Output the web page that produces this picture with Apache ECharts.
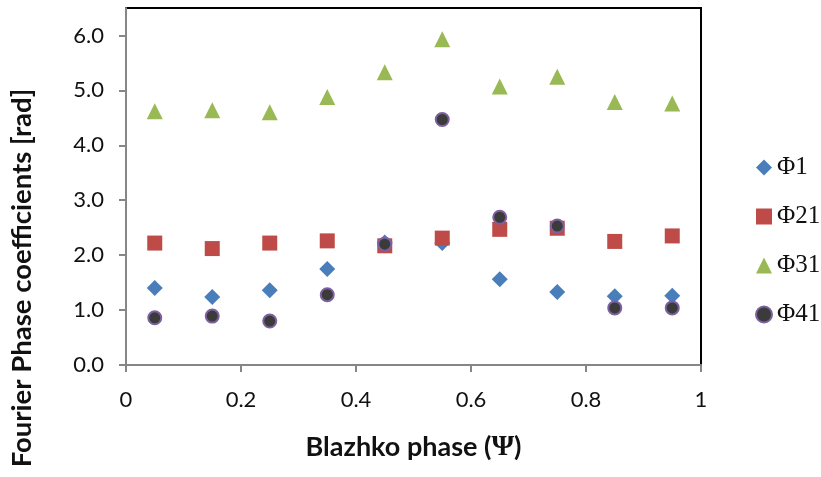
<!DOCTYPE html>
<html>
<head>
<meta charset="utf-8">
<script src="https://cdn.jsdelivr.net/npm/echarts@6/dist/echarts.min.js"></script>
<style>
  html, body { margin: 0; padding: 0; background: #fff; }
  #plot { width: 821px; height: 477px; }
</style>
</head>
<body>
<div id="plot"></div>
<script>
const phases = [0.05, 0.15, 0.25, 0.35, 0.45, 0.55, 0.65, 0.75, 0.85, 0.95];
const phi1 = [1.40, 1.24, 1.36, 1.75, 2.23, 2.22, 1.56, 1.33, 1.25, 1.26];
const phi21 = [2.22, 2.12, 2.22, 2.26, 2.17, 2.31, 2.47, 2.49, 2.25, 2.35];
const phi31 = [4.62, 4.64, 4.60, 4.88, 5.33, 5.93, 5.07, 5.25, 4.79, 4.76];
const phi41 = [0.86, 0.89, 0.80, 1.28, 2.20, 4.47, 2.69, 2.53, 1.04, 1.04];

const seriesNames = ["\u03A61", "\u03A621", "\u03A631", "\u03A641"];

const pairs = (ys) => phases.map((x, i) => [x, ys[i]]);

const chart = echarts.init(document.getElementById("plot"));

const labelFont = "Lato";

chart.setOption({
  animation: false,
  backgroundColor: "#fff",
  grid: {
    left: 126, right: 120, top: 8, bottom: 112,
    outerBoundsMode: "none",
    show: true, borderColor: "#000", borderWidth: 2
  },
  legend: {
    orient: "vertical",
    left: 750, top: 150,
    itemGap: 24,
    itemWidth: 16, itemHeight: 16,
    textStyle: { fontFamily: "Liberation Serif", fontSize: 25, color: "#111" },
    data: seriesNames
  },
  // the y title sits lower than the plot centre in the original
  graphic: [{
    type: "text",
    x: 22, y: 278,
    rotation: Math.PI / 2,
    style: {
      text: "Fourier Phase coefficients [rad]",
      fontFamily: labelFont, fontSize: 27.5, fontWeight: "bold", fill: "#111",
      align: "center", verticalAlign: "middle"
    }
  }],
  xAxis: {
    type: "value",
    min: 0, max: 1, interval: 0.2,
    splitLine: { show: false },
    axisLine: { show: true, lineStyle: { color: "#868686", width: 2 } },
    axisTick: { show: true, length: 7, lineStyle: { color: "#868686", width: 2 } },
    axisLabel: { fontFamily: labelFont, fontSize: 22, color: "#111", margin: 24 },
    name: "{t|Blazhko phase (}{p|\u03A8}{t|)}",
    nameLocation: "middle",
    nameGap: 68,
    nameTextStyle: {
      rich: {
        t: { fontFamily: labelFont, fontSize: 27, fontWeight: "bold", color: "#111" },
        p: { fontFamily: "Liberation Serif", fontSize: 29, fontWeight: "bold", color: "#111" }
      }
    }
  },
  yAxis: {
    type: "value",
    min: 0, max: 6.5, interval: 1,
    splitLine: { show: false },
    axisLine: { show: true, lineStyle: { color: "#868686", width: 2 } },
    axisTick: { show: true, length: 7, lineStyle: { color: "#868686", width: 2 } },
    axisLabel: {
      fontFamily: labelFont, fontSize: 22, color: "#111", margin: 22,
      showMaxLabel: false,
      formatter: (v) => v.toFixed(1)
    }
  },
  series: [
    {
      name: seriesNames[0], type: "scatter", data: pairs(phi1),
      symbol: "diamond", symbolSize: 16,
      itemStyle: { color: "#4a7ebb", opacity: 1 }
    },
    {
      name: seriesNames[1], type: "scatter", data: pairs(phi21),
      symbol: "rect", symbolSize: 15,
      itemStyle: { color: "#be4b48", opacity: 1 }
    },
    {
      name: seriesNames[2], type: "scatter", data: pairs(phi31),
      symbol: "triangle", symbolSize: 16,
      itemStyle: { color: "#98b954", opacity: 1 }
    },
    {
      name: seriesNames[3], type: "scatter", data: pairs(phi41),
      symbol: "circle", symbolSize: 13,
      itemStyle: { color: "#3b3b3b", borderColor: "#7d60a0", borderWidth: 2, opacity: 1 }
    }
  ]
});
</script>
</body>
</html>
